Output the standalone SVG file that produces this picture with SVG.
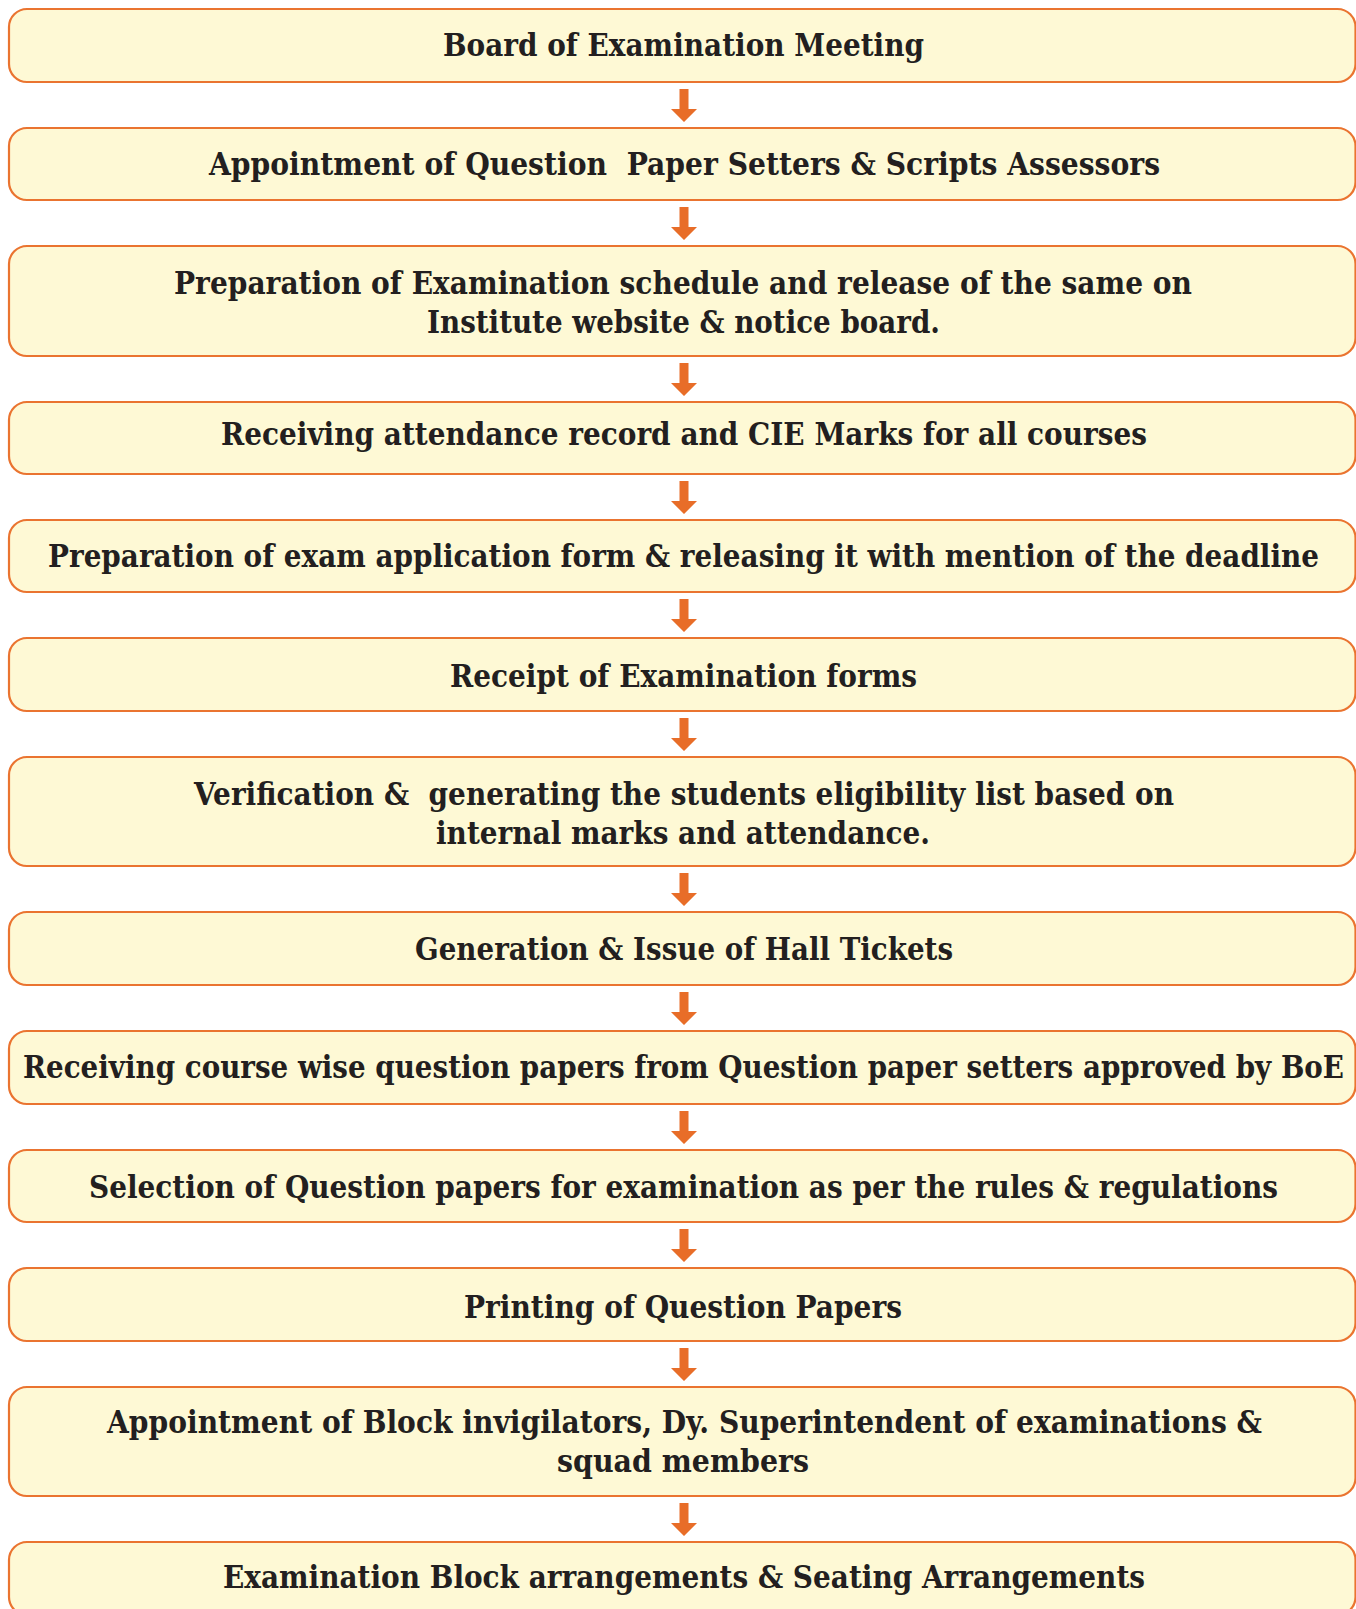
<svg xmlns="http://www.w3.org/2000/svg" width="1356" height="1609" viewBox="0 0 1356 1609">
  <style>
    .box { fill: #fef9d5; stroke: #ea7430; stroke-width: 2.2; }
    .lbl { font-family: "DejaVu Serif", "Liberation Serif", serif; font-weight: bold; font-size: 32px; fill: #231f20; white-space: pre; }
    .arrow { fill: #e86d28; }
  </style>
  <defs>
    <!-- downward block arrow, origin at the bottom edge of the upper box -->
    <path id="down" d="M679.5 7 H688.5 V27 H697 L684 40 L671 27 H679.5 Z"/>
  </defs>
  <rect width="1356" height="1609" fill="#ffffff"/>

  <g id="connectors" class="arrow">
    <use href="#down" y="82"/>
    <use href="#down" y="200"/>
    <use href="#down" y="356"/>
    <use href="#down" y="474"/>
    <use href="#down" y="592"/>
    <use href="#down" y="711"/>
    <use href="#down" y="866"/>
    <use href="#down" y="985"/>
    <use href="#down" y="1104"/>
    <use href="#down" y="1222"/>
    <use href="#down" y="1341"/>
    <use href="#down" y="1496"/>
  </g>

  <g id="step1">
    <rect class="box" x="9" y="9" width="1346.5" height="73" rx="18"/>
    <text class="lbl" x="443" y="56" textLength="481" lengthAdjust="spacingAndGlyphs">Board of Examination Meeting</text>
  </g>
  <g id="step2">
    <rect class="box" x="9" y="128" width="1346.5" height="72" rx="18"/>
    <text class="lbl" x="209" y="175" textLength="951" lengthAdjust="spacingAndGlyphs">Appointment of Question  Paper Setters &amp; Scripts Assessors</text>
  </g>
  <g id="step3">
    <rect class="box" x="9" y="246" width="1346.5" height="110" rx="18"/>
    <text class="lbl" x="174" y="294" textLength="1018" lengthAdjust="spacingAndGlyphs">Preparation of Examination schedule and release of the same on</text>
    <text class="lbl" x="427" y="333" textLength="513" lengthAdjust="spacingAndGlyphs">Institute website &amp; notice board.</text>
  </g>
  <g id="step4">
    <rect class="box" x="9" y="402" width="1346.5" height="72" rx="18"/>
    <text class="lbl" x="221" y="445" textLength="926" lengthAdjust="spacingAndGlyphs">Receiving attendance record and CIE Marks for all courses</text>
  </g>
  <g id="step5">
    <rect class="box" x="9" y="520" width="1346.5" height="72" rx="18"/>
    <text class="lbl" x="48" y="567" textLength="1271" lengthAdjust="spacingAndGlyphs">Preparation of exam application form &amp; releasing it with mention of the deadline</text>
  </g>
  <g id="step6">
    <rect class="box" x="9" y="638" width="1346.5" height="73" rx="18"/>
    <text class="lbl" x="450" y="687" textLength="467" lengthAdjust="spacingAndGlyphs">Receipt of Examination forms</text>
  </g>
  <g id="step7">
    <rect class="box" x="9" y="757" width="1346.5" height="109" rx="18"/>
    <text class="lbl" x="194" y="805" textLength="980" lengthAdjust="spacingAndGlyphs">Verification &amp;  generating the students eligibility list based on</text>
    <text class="lbl" x="436" y="844" textLength="494" lengthAdjust="spacingAndGlyphs">internal marks and attendance.</text>
  </g>
  <g id="step8">
    <rect class="box" x="9" y="912" width="1346.5" height="73" rx="18"/>
    <text class="lbl" x="415" y="960" textLength="538" lengthAdjust="spacingAndGlyphs">Generation &amp; Issue of Hall Tickets</text>
  </g>
  <g id="step9">
    <rect class="box" x="9" y="1031" width="1346.5" height="73" rx="18"/>
    <text class="lbl" x="23" y="1078" textLength="1321" lengthAdjust="spacingAndGlyphs">Receiving course wise question papers from Question paper setters approved by BoE</text>
  </g>
  <g id="step10">
    <rect class="box" x="9" y="1150" width="1346.5" height="72" rx="18"/>
    <text class="lbl" x="89" y="1198" textLength="1189" lengthAdjust="spacingAndGlyphs">Selection of Question papers for examination as per the rules &amp; regulations</text>
  </g>
  <g id="step11">
    <rect class="box" x="9" y="1268" width="1346.5" height="73" rx="18"/>
    <text class="lbl" x="464" y="1318" textLength="438" lengthAdjust="spacingAndGlyphs">Printing of Question Papers</text>
  </g>
  <g id="step12">
    <rect class="box" x="9" y="1387" width="1346.5" height="109" rx="18"/>
    <text class="lbl" x="107" y="1433" textLength="1155" lengthAdjust="spacingAndGlyphs">Appointment of Block invigilators, Dy. Superintendent of examinations &amp;</text>
    <text class="lbl" x="557" y="1472" textLength="252" lengthAdjust="spacingAndGlyphs">squad members</text>
  </g>
  <g id="step13">
    <rect class="box" x="9" y="1542" width="1346.5" height="73" rx="18"/>
    <text class="lbl" x="223" y="1588" textLength="922" lengthAdjust="spacingAndGlyphs">Examination Block arrangements &amp; Seating Arrangements</text>
  </g>
</svg>
